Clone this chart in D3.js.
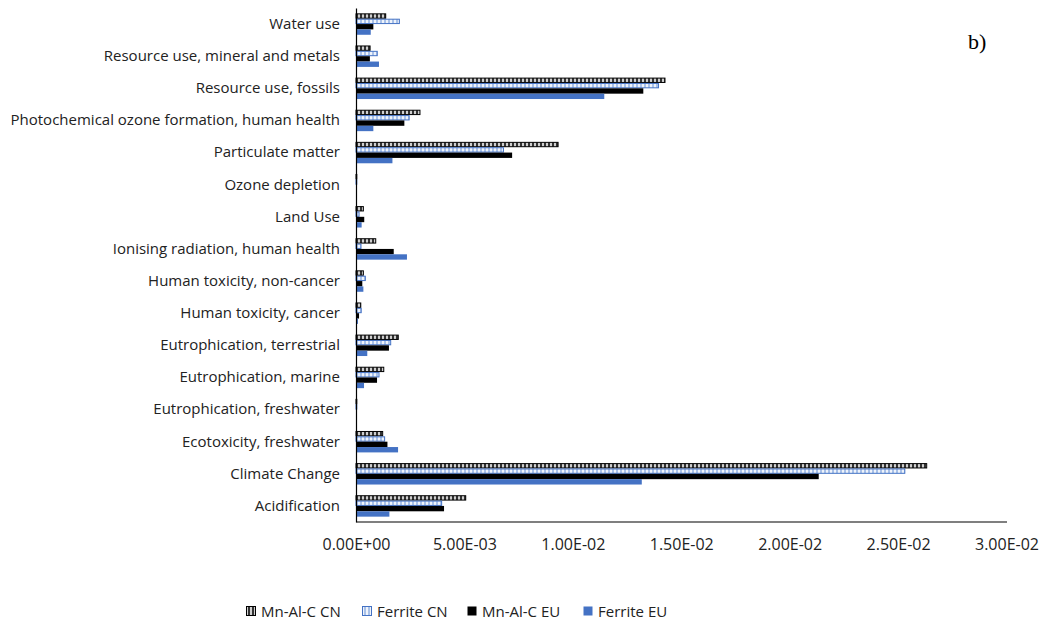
<!DOCTYPE html>
<html><head><meta charset="utf-8">
<script src="https://cdn.jsdelivr.net/npm/d3@7"></script>
<style>body{margin:0;background:#fff}svg{display:block}</style>
</head><body>
<svg id="c" width="1047" height="623"></svg>
<script>
const categories = ["Water use","Resource use, mineral and metals","Resource use, fossils","Photochemical ozone formation, human health","Particulate matter","Ozone depletion","Land Use","Ionising radiation, human health","Human toxicity, non-cancer","Human toxicity, cancer","Eutrophication, terrestrial","Eutrophication, marine","Eutrophication, freshwater","Ecotoxicity, freshwater","Climate Change","Acidification"];
const seriesNames = ["Mn-Al-C CN","Ferrite CN","Mn-Al-C EU","Ferrite EU"];
const mnalcCN   = [1.37e-3,0.65e-3,14.25e-3,2.95e-3,9.32e-3,0.03e-3,0.34e-3,0.91e-3,0.34e-3,0.22e-3,1.95e-3,1.28e-3,0.02e-3,1.23e-3,26.32e-3,5.06e-3];
const ferriteCN = [2.00e-3,0.98e-3,13.95e-3,2.45e-3,6.80e-3,0.02e-3,0.14e-3,0.23e-3,0.43e-3,0.24e-3,1.60e-3,1.06e-3,0.02e-3,1.32e-3,25.31e-3,3.95e-3];
const mnalcEU   = [0.80e-3,0.64e-3,13.25e-3,2.23e-3,7.20e-3,0.03e-3,0.38e-3,1.74e-3,0.29e-3,0.14e-3,1.52e-3,0.97e-3,0.02e-3,1.45e-3,21.34e-3,4.06e-3];
const ferriteEU = [0.68e-3,1.06e-3,11.45e-3,0.80e-3,1.68e-3,0.02e-3,0.26e-3,2.35e-3,0.34e-3,0.09e-3,0.52e-3,0.37e-3,0.02e-3,1.94e-3,13.18e-3,1.54e-3];
const xTicks = [0,0.005,0.01,0.015,0.02,0.025,0.03];
const xTickLabels = ["0.00E+00","5.00E-03","1.00E-02","1.50E-02","2.00E-02","2.50E-02","3.00E-02"];

const values = [mnalcCN, ferriteCN, mnalcEU, ferriteEU];
const svg = d3.select("#c");
const defs = svg.append("defs");
const p1 = defs.append("pattern").attr("id","hatchDark").attr("patternUnits","userSpaceOnUse").attr("width",4).attr("height",4);
p1.append("rect").attr("width",4).attr("height",4).attr("fill","#cfcfcf");
p1.append("rect").attr("width",2).attr("height",4).attr("fill","#333");
const p2 = defs.append("pattern").attr("id","hatchBlue").attr("patternUnits","userSpaceOnUse").attr("width",4).attr("height",4);
p2.append("rect").attr("width",4).attr("height",4).attr("fill","#eef3fb");
p2.append("rect").attr("width",2).attr("height",4).attr("fill","#a9c1e8");

const styles = [
  {fill:"url(#hatchDark)", stroke:"#000", sw:1},
  {fill:"url(#hatchBlue)", stroke:"#4472C4", sw:1},
  {fill:"#000", stroke:"none", sw:0},
  {fill:"#4472C4", stroke:"none", sw:0}
];

const x = d3.scaleLinear().domain([0,0.03]).range([356,1006.5]);
const y = d3.scaleBand().domain(categories).range([8,522]).paddingInner(0.333).paddingOuter(0.1665);
const ys = d3.scaleBand().domain(seriesNames).range([0,y.bandwidth()]);

const font = "'Open Sans', Lato, sans-serif";
const fs = 15;

seriesNames.forEach((s,si)=>{
  svg.append("g").selectAll("rect").data(categories).join("rect")
    .attr("x", x(0))
    .attr("y", (c)=> y(c)+ys(s) + (styles[si].sw?0.5:0))
    .attr("width", (c,i)=> Math.max(0.8, x(values[si][i])-x(0)))
    .attr("height", ys.bandwidth() - (styles[si].sw?1:0))
    .attr("fill", styles[si].fill)
    .attr("stroke", styles[si].stroke)
    .attr("stroke-width", styles[si].sw);
});

const xAxis = d3.axisBottom(x).tickValues(xTicks).tickFormat((d,i)=>xTickLabels[i]).tickSize(0).tickPadding(17);
const gx = svg.append("g").attr("transform","translate(0,521.5)").call(xAxis);
gx.select(".domain").attr("stroke","#000").attr("stroke-width",1.2);
gx.selectAll("text").attr("font-family",font).attr("font-size",16).attr("fill","#222");

const yAxis = d3.axisLeft(y).tickSize(0).tickPadding(16);
const gy = svg.append("g").attr("transform","translate(356,0)").call(yAxis);
gy.select(".domain").attr("stroke","#000").attr("stroke-width",1.2);
gy.selectAll("text").attr("font-family",font).attr("font-size",fs).attr("fill","#222");

svg.append("text").attr("x",968).attr("y",49).attr("font-family","'Liberation Serif','DejaVu Serif',serif").attr("font-size",22).attr("fill","#000").text("b)");

const legX = [246,362,467,583];
const lg = svg.append("g");
seriesNames.forEach((s,i)=>{
  lg.append("rect").attr("x",legX[i]+0.5).attr("y",606.5).attr("width",9).attr("height",9)
    .attr("fill",styles[i].fill).attr("stroke",styles[i].sw?styles[i].stroke:"none");
  lg.append("text").attr("x",legX[i]+15).attr("y",616.5).attr("font-family",font).attr("font-size",fs).attr("fill","#222").text(s);
});
</script>
</body></html>
